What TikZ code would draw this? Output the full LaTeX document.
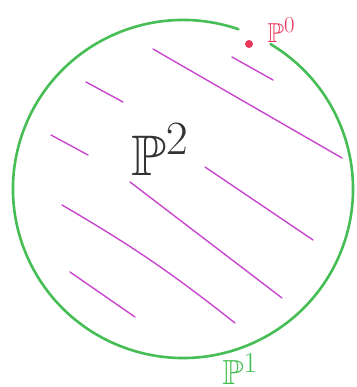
\documentclass[tikz,border=0pt]{standalone}
\usepackage{amsmath,amssymb}
\usetikzlibrary{positioning}
\definecolor{sketchgreen}{RGB}{70,190,85}
\definecolor{sketchpink}{RGB}{200,70,205}
\definecolor{sketchred}{RGB}{232,55,90}
\tikzset{
  bound/.style  = {draw=sketchgreen, line width=2.6pt, line cap=round},
  hatch/.style  = {draw=sketchpink, line width=1.4pt, line cap=round},
  pt/.style     = {circle, fill=sketchred, inner sep=0pt, minimum size=8pt},
  lbl/.style    = {inner sep=0pt, font=\Huge}
}
\begin{document}
\begin{tikzpicture}[x=1pt, y=1pt]
  \useasboundingbox (0,0) rectangle (356,387);

  % the circle, open near the point
  \coordinate (O) at (183,198);
  \draw[bound] (O) ++(71:170 and 169)
    arc[start angle=71, end angle=419, x radius=170, y radius=169];

  % the missing point
  \node[pt] (p0) at (249,343) {};
  \node[lbl, text=sketchred, right=14pt of p0, yshift=14pt] (P0)
    {\scalebox{1.1}{$\mathbb{P}^0$}};

  % shading of the inside
  \draw[hatch] (153,338) -- (342,229);
  \draw[hatch] (232,330) -- (273,307);
  \draw[hatch] (86,305)  -- (123,285);
  \draw[hatch] (51,252)  -- (88,232);
  \draw[hatch] (205,220) -- (313,147);
  \draw[hatch] (130,205) -- (282,89);
  \draw[hatch] (62,182)  to[bend left=4] (235,64);
  \draw[hatch] (70,115)  -- (135,70);

  % labels
  \node[lbl, text=black!80] (P2) at (160,237) {\scalebox{2.3}{$\mathbb{P}^2$}};
  \node[lbl, text=sketchgreen] (P1) at (240,18) {\scalebox{1.4}{$\mathbb{P}^1$}};
\end{tikzpicture}
\end{document}
